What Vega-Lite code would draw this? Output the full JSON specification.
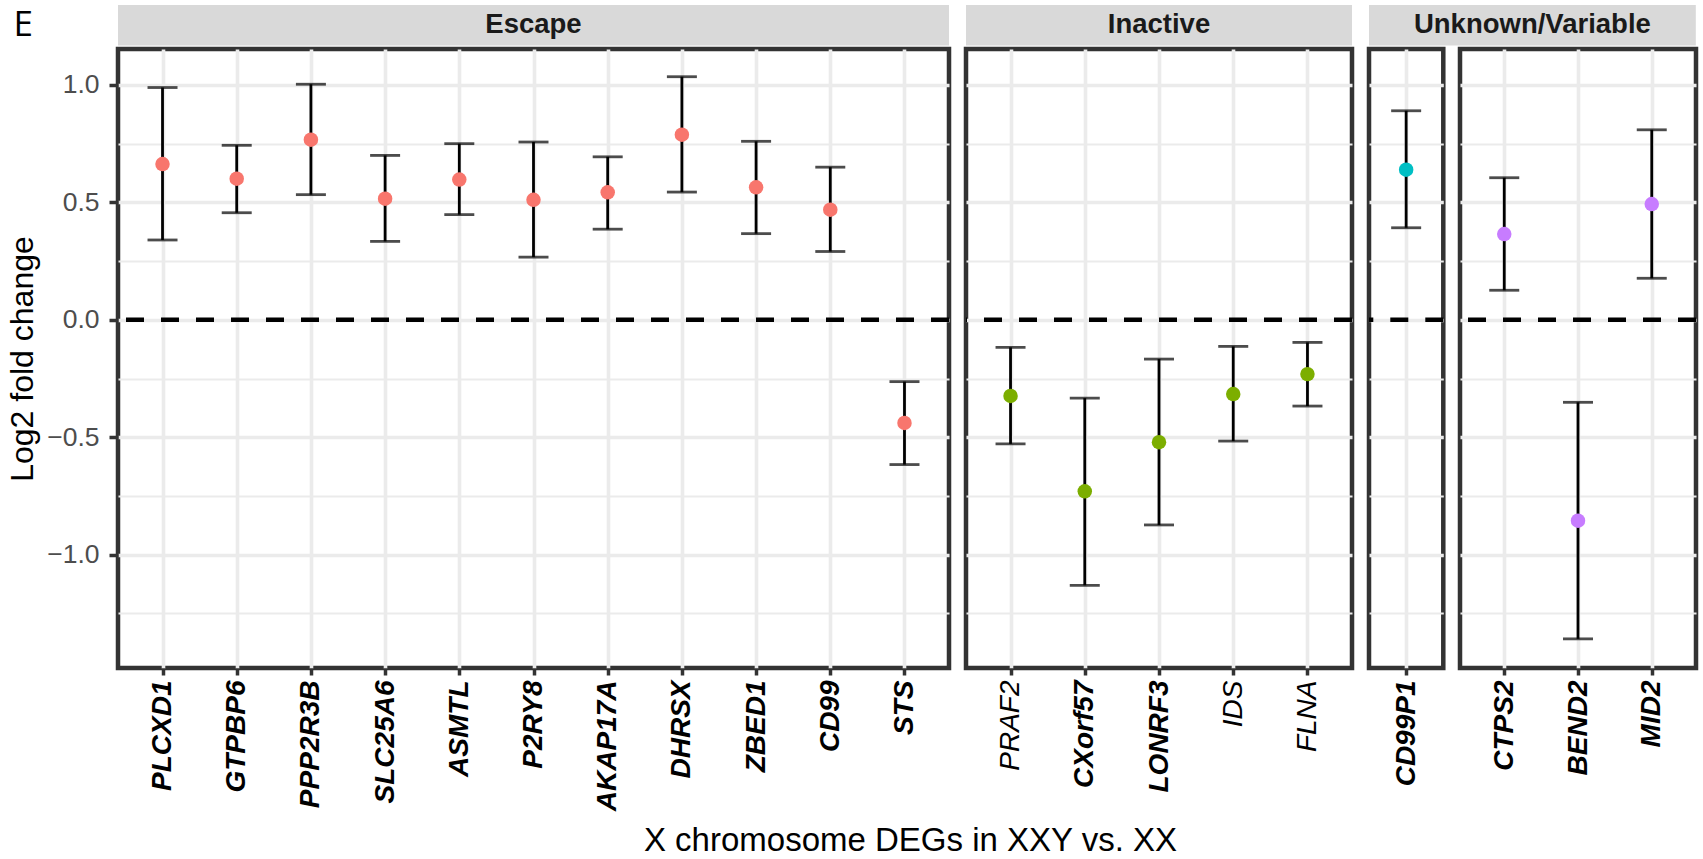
{
  "$schema": "https://vega.github.io/schema/vega-lite/v6.json",
  "padding": {"left": 4, "top": 5, "right": 5, "bottom": 5},
  "datasets": {
    "genes": [
      {"gene": "PLCXD1", "status": "Escape", "lfc": 0.663, "lo": 0.340, "hi": 0.989},
      {"gene": "GTPBP6", "status": "Escape", "lfc": 0.601, "lo": 0.456, "hi": 0.743},
      {"gene": "PPP2R3B", "status": "Escape", "lfc": 0.767, "lo": 0.533, "hi": 1.003},
      {"gene": "SLC25A6", "status": "Escape", "lfc": 0.516, "lo": 0.334, "hi": 0.700},
      {"gene": "ASMTL", "status": "Escape", "lfc": 0.597, "lo": 0.448, "hi": 0.750},
      {"gene": "P2RY8", "status": "Escape", "lfc": 0.511, "lo": 0.267, "hi": 0.757},
      {"gene": "AKAP17A", "status": "Escape", "lfc": 0.543, "lo": 0.386, "hi": 0.694},
      {"gene": "DHRSX", "status": "Escape", "lfc": 0.788, "lo": 0.544, "hi": 1.035},
      {"gene": "ZBED1", "status": "Escape", "lfc": 0.564, "lo": 0.367, "hi": 0.760},
      {"gene": "CD99", "status": "Escape", "lfc": 0.469, "lo": 0.291, "hi": 0.650},
      {"gene": "STS", "status": "Escape", "lfc": -0.439, "lo": -0.616, "hi": -0.263},
      {"gene": "PRAF2", "status": "Inactive", "lfc": -0.324, "lo": -0.528, "hi": -0.117},
      {"gene": "CXorf57", "status": "Inactive", "lfc": -0.730, "lo": -1.130, "hi": -0.333},
      {"gene": "LONRF3", "status": "Inactive", "lfc": -0.521, "lo": -0.873, "hi": -0.167},
      {"gene": "IDS", "status": "Inactive", "lfc": -0.316, "lo": -0.516, "hi": -0.113},
      {"gene": "FLNA", "status": "Inactive", "lfc": -0.231, "lo": -0.367, "hi": -0.096},
      {"gene": "CD99P1", "status": "Unknown", "lfc": 0.639, "lo": 0.392, "hi": 0.890},
      {"gene": "CTPS2", "status": "Variable", "lfc": 0.365, "lo": 0.126, "hi": 0.605},
      {"gene": "BEND2", "status": "Variable", "lfc": -0.855, "lo": -1.358, "hi": -0.351},
      {"gene": "MID2", "status": "Variable", "lfc": 0.493, "lo": 0.177, "hi": 0.809}
    ]
  },
  "title": {
    "text": "X chromosome DEGs in XXY vs. XX",
    "orient": "bottom",
    "anchor": "middle",
    "frame": "bounds",
    "dx": 58,
    "font": "Liberation Sans",
    "fontSize": 33,
    "fontWeight": "normal",
    "color": "black",
    "offset": 12
  },
  "spacing": 7,
  "resolve": {"scale": {"x": "independent", "y": "independent"}},
  "hconcat": [
    {
      "spacing": 0,
      "resolve": {"scale": {"x": "independent", "y": "independent"}},
      "vconcat": [
        {
          "width": 831,
          "height": 40.5,
          "title": {"text": "E", "orient": "left", "angle": 0, "align": "left", "baseline": "middle", "anchor": "middle", "font": "Open Sans", "fontSize": 35, "fontWeight": "normal", "color": "black", "offset": 85},
          "view": {"fill": "#D9D9D9"},
          "data": {"values": [{"label": "Escape"}]},
          "mark": {"type": "text", "font": "Liberation Sans", "fontSize": 27.5, "fontWeight": "bold", "color": "#1A1A1A", "baseline": "middle"},
          "encoding": {"text": {"field": "label"}}
        },
        {
          "width": 831,
          "height": 619,
          "data": {"name": "genes"},
          "transform": [{"filter": "datum.status === 'Escape'"}],
          "layer": [
            {
              "data": {"values": [{}]},
              "mark": {"type": "rule", "color": "black", "strokeWidth": 4.5, "strokeDash": [18, 17]},
              "encoding": {
                "y": {"datum": 0, "type": "quantitative", "scale": {"domain": [-1.482, 1.153], "nice": false, "zero": false},
                  "axis": {"title": "Log2 fold change", "values": [-1.25, -1, -0.75, -0.5, -0.25, 0, 0.25, 0.5, 0.75, 1], "format": ".1f",
                    "labelExpr": "datum.value % 0.5 !== 0 ? '' : datum.label",
                    "gridWidth": {"condition": {"test": "datum.value % 0.5 !== 0", "value": 2}, "value": 3.6},
                    "tickOpacity": {"condition": {"test": "datum.value % 0.5 !== 0", "value": 0}, "value": 1}}}
              }
            },
            {
              "mark": {"type": "rule", "color": "black", "strokeWidth": 2.8},
              "encoding": {
                "x": {"field": "gene", "type": "nominal", "sort": null, "scale": {"type": "point", "padding": 0.6}, "axis": {"title": null}},
                "y": {"field": "lo", "type": "quantitative"},
                "y2": {"field": "hi"}
              }
            },
            {
              "mark": {"type": "tick", "color": "black", "size": 30, "thickness": 2.8, "orient": "horizontal"},
              "encoding": {"x": {"field": "gene", "type": "nominal", "sort": null}, "y": {"field": "lo", "type": "quantitative"}}
            },
            {
              "mark": {"type": "tick", "color": "black", "size": 30, "thickness": 2.8, "orient": "horizontal"},
              "encoding": {"x": {"field": "gene", "type": "nominal", "sort": null}, "y": {"field": "hi", "type": "quantitative"}}
            },
            {
              "mark": {"type": "point", "filled": true, "size": 210, "opacity": 1},
              "encoding": {
                "x": {"field": "gene", "type": "nominal", "sort": null},
                "y": {"field": "lfc", "type": "quantitative"},
                "color": {"field": "status", "type": "nominal", "scale": {"domain": ["Escape", "Inactive", "Unknown", "Variable"], "range": ["#F8766D", "#7CAE00", "#00BFC4", "#C77CFF"]}, "legend": null}
              }
            }
          ]
        }
      ]
    },
    {
      "spacing": 0,
      "resolve": {"scale": {"x": "independent", "y": "independent"}},
      "vconcat": [
        {
          "width": 386,
          "height": 40.5,
          "view": {"fill": "#D9D9D9"},
          "data": {"values": [{"label": "Inactive"}]},
          "mark": {"type": "text", "font": "Liberation Sans", "fontSize": 27.5, "fontWeight": "bold", "color": "#1A1A1A", "baseline": "middle"},
          "encoding": {"text": {"field": "label"}}
        },
        {
          "width": 386,
          "height": 619,
          "data": {"name": "genes"},
          "transform": [{"filter": "datum.status === 'Inactive'"}],
          "layer": [
            {
              "data": {"values": [{}]},
              "mark": {"type": "rule", "color": "black", "strokeWidth": 4.5, "strokeDash": [18, 17]},
              "encoding": {
                "y": {"datum": 0, "type": "quantitative", "scale": {"domain": [-1.482, 1.153], "nice": false, "zero": false},
                  "axis": {"title": null, "labels": false, "ticks": false, "values": [-1.25, -1, -0.75, -0.5, -0.25, 0, 0.25, 0.5, 0.75, 1],
                    "gridWidth": {"condition": {"test": "datum.value % 0.5 !== 0", "value": 2}, "value": 3.6}}}
              }
            },
            {
              "mark": {"type": "rule", "color": "black", "strokeWidth": 2.8},
              "encoding": {
                "x": {"field": "gene", "type": "nominal", "sort": null, "scale": {"type": "point", "padding": 0.6},
                  "axis": {"title": null, "labelFontWeight": {"condition": {"test": "indexof(['PRAF2','IDS','FLNA'], datum.value) >= 0", "value": "normal"}, "value": "bold"}}},
                "y": {"field": "lo", "type": "quantitative"},
                "y2": {"field": "hi"}
              }
            },
            {
              "mark": {"type": "tick", "color": "black", "size": 30, "thickness": 2.8, "orient": "horizontal"},
              "encoding": {"x": {"field": "gene", "type": "nominal", "sort": null}, "y": {"field": "lo", "type": "quantitative"}}
            },
            {
              "mark": {"type": "tick", "color": "black", "size": 30, "thickness": 2.8, "orient": "horizontal"},
              "encoding": {"x": {"field": "gene", "type": "nominal", "sort": null}, "y": {"field": "hi", "type": "quantitative"}}
            },
            {
              "mark": {"type": "point", "filled": true, "size": 210, "opacity": 1},
              "encoding": {
                "x": {"field": "gene", "type": "nominal", "sort": null},
                "y": {"field": "lfc", "type": "quantitative"},
                "color": {"field": "status", "type": "nominal", "scale": {"domain": ["Escape", "Inactive", "Unknown", "Variable"], "range": ["#F8766D", "#7CAE00", "#00BFC4", "#C77CFF"]}, "legend": null}
              }
            }
          ]
        }
      ]
    },
    {
      "spacing": 0,
      "resolve": {"scale": {"x": "independent", "y": "independent"}},
      "vconcat": [
        {
          "width": 326.8,
          "height": 40.5,
          "view": {"fill": "#D9D9D9"},
          "data": {"values": [{"label": "Unknown/Variable"}]},
          "mark": {"type": "text", "font": "Liberation Sans", "fontSize": 27.5, "fontWeight": "bold", "color": "#1A1A1A", "baseline": "middle"},
          "encoding": {"text": {"field": "label"}}
        },
        {
          "spacing": 7,
          "resolve": {"scale": {"x": "independent", "y": "independent"}},
          "hconcat": [
            {
              "width": 74.3,
              "height": 619,
              "data": {"name": "genes"},
              "transform": [{"filter": "datum.status === 'Unknown'"}],
              "layer": [
                {
                  "data": {"values": [{}]},
                  "mark": {"type": "rule", "color": "black", "strokeWidth": 4.5, "strokeDash": [18, 17]},
                  "encoding": {
                    "y": {"datum": 0, "type": "quantitative", "scale": {"domain": [-1.482, 1.153], "nice": false, "zero": false},
                      "axis": {"title": null, "labels": false, "ticks": false, "values": [-1.25, -1, -0.75, -0.5, -0.25, 0, 0.25, 0.5, 0.75, 1],
                        "gridWidth": {"condition": {"test": "datum.value % 0.5 !== 0", "value": 2}, "value": 3.6}}}
                  }
                },
                {
                  "mark": {"type": "rule", "color": "black", "strokeWidth": 2.8},
                  "encoding": {
                    "x": {"field": "gene", "type": "nominal", "sort": null, "scale": {"type": "point", "padding": 0.6}, "axis": {"title": null}},
                    "y": {"field": "lo", "type": "quantitative"},
                    "y2": {"field": "hi"}
                  }
                },
                {
                  "mark": {"type": "tick", "color": "black", "size": 30, "thickness": 2.8, "orient": "horizontal"},
                  "encoding": {"x": {"field": "gene", "type": "nominal", "sort": null}, "y": {"field": "lo", "type": "quantitative"}}
                },
                {
                  "mark": {"type": "tick", "color": "black", "size": 30, "thickness": 2.8, "orient": "horizontal"},
                  "encoding": {"x": {"field": "gene", "type": "nominal", "sort": null}, "y": {"field": "hi", "type": "quantitative"}}
                },
                {
                  "mark": {"type": "point", "filled": true, "size": 210, "opacity": 1},
                  "encoding": {
                    "x": {"field": "gene", "type": "nominal", "sort": null},
                    "y": {"field": "lfc", "type": "quantitative"},
                    "color": {"field": "status", "type": "nominal", "scale": {"domain": ["Escape", "Inactive", "Unknown", "Variable"], "range": ["#F8766D", "#7CAE00", "#00BFC4", "#C77CFF"]}, "legend": null}
                  }
                }
              ]
            },
            {
              "width": 236,
              "height": 619,
              "data": {"name": "genes"},
              "transform": [{"filter": "datum.status === 'Variable'"}],
              "layer": [
                {
                  "data": {"values": [{}]},
                  "mark": {"type": "rule", "color": "black", "strokeWidth": 4.5, "strokeDash": [18, 17]},
                  "encoding": {
                    "y": {"datum": 0, "type": "quantitative", "scale": {"domain": [-1.482, 1.153], "nice": false, "zero": false},
                      "axis": {"title": null, "labels": false, "ticks": false, "values": [-1.25, -1, -0.75, -0.5, -0.25, 0, 0.25, 0.5, 0.75, 1],
                        "gridWidth": {"condition": {"test": "datum.value % 0.5 !== 0", "value": 2}, "value": 3.6}}}
                  }
                },
                {
                  "mark": {"type": "rule", "color": "black", "strokeWidth": 2.8},
                  "encoding": {
                    "x": {"field": "gene", "type": "nominal", "sort": null, "scale": {"type": "point", "padding": 0.6}, "axis": {"title": null}},
                    "y": {"field": "lo", "type": "quantitative"},
                    "y2": {"field": "hi"}
                  }
                },
                {
                  "mark": {"type": "tick", "color": "black", "size": 30, "thickness": 2.8, "orient": "horizontal"},
                  "encoding": {"x": {"field": "gene", "type": "nominal", "sort": null}, "y": {"field": "lo", "type": "quantitative"}}
                },
                {
                  "mark": {"type": "tick", "color": "black", "size": 30, "thickness": 2.8, "orient": "horizontal"},
                  "encoding": {"x": {"field": "gene", "type": "nominal", "sort": null}, "y": {"field": "hi", "type": "quantitative"}}
                },
                {
                  "mark": {"type": "point", "filled": true, "size": 210, "opacity": 1},
                  "encoding": {
                    "x": {"field": "gene", "type": "nominal", "sort": null},
                    "y": {"field": "lfc", "type": "quantitative"},
                    "color": {"field": "status", "type": "nominal", "scale": {"domain": ["Escape", "Inactive", "Unknown", "Variable"], "range": ["#F8766D", "#7CAE00", "#00BFC4", "#C77CFF"]}, "legend": null}
                  }
                }
              ]
            }
          ]
        }
      ]
    }
  ],
  "config": {
    "background": "white",
    "font": "Liberation Sans",
    "view": {"stroke": "#333333", "strokeWidth": 4.5},
    "axis": {"domain": false, "grid": true, "gridColor": "#EBEBEB", "gridOpacity": 1, "tickColor": "#333333", "tickWidth": 3.5},
    "axisX": {"labelAngle": -90, "labelFont": "Liberation Sans", "labelFontSize": 28, "labelFontStyle": "italic", "labelFontWeight": "bold", "labelColor": "black", "tickSize": 7, "labelPadding": 5, "gridWidth": 3.6, "labelOverlap": false},
    "axisY": {"labelFont": "Liberation Sans", "labelFontSize": 26.5, "labelColor": "#4D4D4D", "tickSize": 9, "labelPadding": 10, "labelOverlap": false, "titleFont": "Liberation Sans", "titleFontSize": 32, "titleFontWeight": "normal", "titleColor": "black", "titlePadding": 7}
  }
}
